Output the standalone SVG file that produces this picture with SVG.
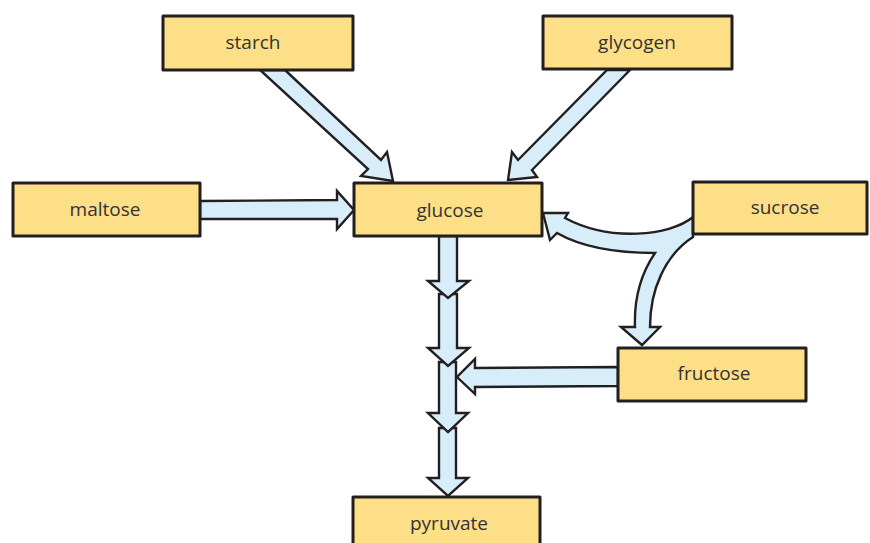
<svg xmlns="http://www.w3.org/2000/svg" width="870" height="543" viewBox="0 0 870 543">
  <style>
    .box rect { fill: #fddf88; stroke: #231f20; stroke-width: 3; stroke-linejoin: round; }
    .box text { font-family: "Open Sans", "Noto Sans", "Liberation Sans", sans-serif; font-size: 19px; fill: #333333; text-anchor: middle; }
    .arrow { fill: #d7edfa; stroke: #231f20; stroke-width: 2.4; stroke-linejoin: miter; stroke-miterlimit: 6; }
  </style>
  <rect width="870" height="543" fill="#ffffff"/>

  <!-- connectors -->
  <g id="connectors">
    <!-- starch -> glucose -->
    <polygon class="arrow" points="260,70 285,70 381,160 387,152 393,181 361,176 368,169"/>
    <!-- glycogen -> glucose -->
    <polygon class="arrow" points="607,70 630,70 532,170 537,177 508,180 512,152 518,160"/>
    <!-- maltose -> glucose -->
    <polygon class="arrow" points="200,201 337,200 337,191 354,210 337,229 337,219 200,219"/>
    <!-- sucrose -> glucose and fructose -->
    <path class="arrow" d="M693,217 C670,236 610,242 565,218 L568,213 L543,213 L550,240 L557,233 C585,249 620,253 655,253 C640,275 634,300 635,327 L621,327 L642,345 L660,327 L650,327 C650,290 665,255 693,237 Z"/>
    <!-- glucose chain down to pyruvate (lower segments first so each head sits on top) -->
    <polygon class="arrow" points="439,428 456,428 456,478 468,478 448,496 428,478 439,478"/>
    <polygon class="arrow" points="439,362 456,362 456,413 468,413 448,432 428,413 439,413"/>
    <polygon class="arrow" points="439,294 457,294 457,348 469,348 448,366 428,348 439,348"/>
    <polygon class="arrow" points="439,236 457,236 457,281 469,281 448,298 428,281 439,281"/>
    <!-- fructose -> chain -->
    <polygon class="arrow" points="618,367 618,386 475,387 475,394 457,377 475,359 475,368"/>
  </g>

  <g id="starch" class="box">
    <rect x="163" y="16" width="190" height="54"/>
    <text x="253" y="49">starch</text>
  </g>
  <g id="glycogen" class="box">
    <rect x="543" y="16" width="189" height="53"/>
    <text x="637" y="49">glycogen</text>
  </g>
  <g id="maltose" class="box">
    <rect x="13" y="183" width="187" height="53"/>
    <text x="105" y="216">maltose</text>
  </g>
  <g id="glucose" class="box">
    <rect x="354" y="183" width="188" height="53"/>
    <text x="450" y="217">glucose</text>
  </g>
  <g id="sucrose" class="box">
    <rect x="693" y="182" width="174" height="52"/>
    <text x="785" y="214">sucrose</text>
  </g>
  <g id="fructose" class="box">
    <rect x="618" y="348" width="188" height="53"/>
    <text x="714" y="380">fructose</text>
  </g>
  <g id="pyruvate" class="box">
    <rect x="353" y="497" width="187" height="60"/>
    <text x="449" y="530">pyruvate</text>
  </g>
</svg>
